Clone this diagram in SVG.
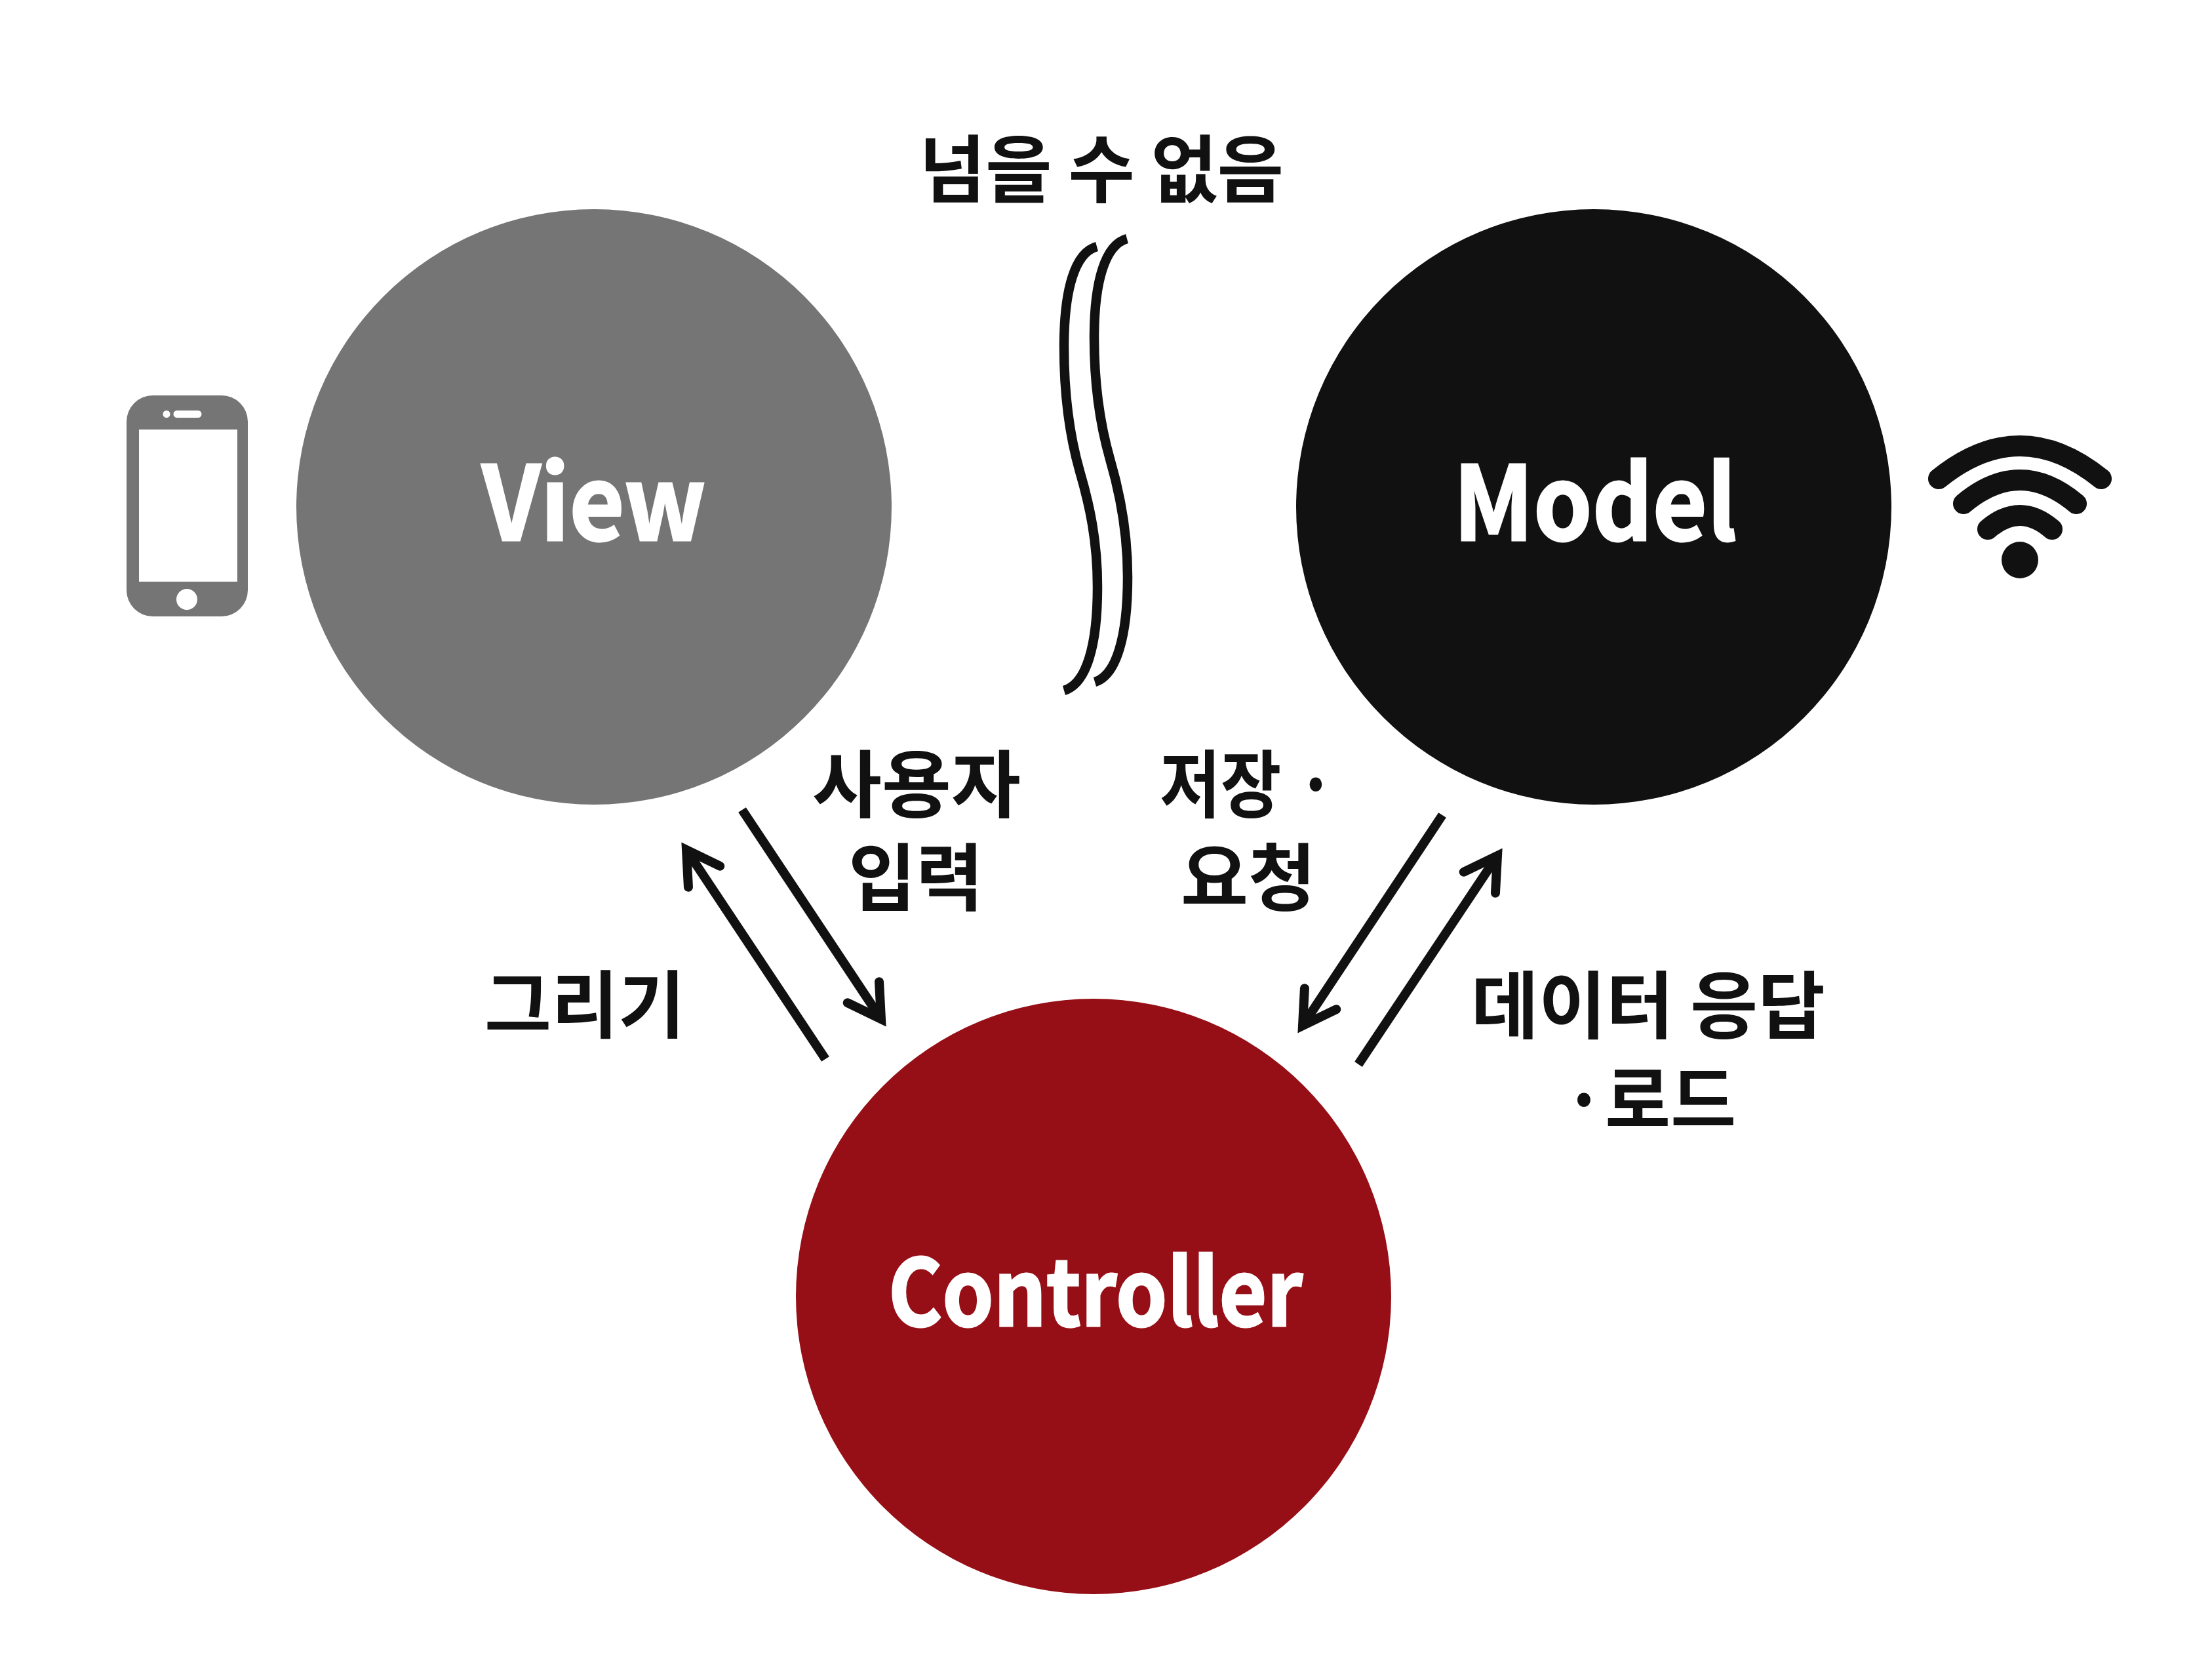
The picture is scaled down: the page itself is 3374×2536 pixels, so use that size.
<svg xmlns="http://www.w3.org/2000/svg" width="3374" height="2536" viewBox="0 0 3374 2536">
<style>
.lb{font-family:"Noto Sans CJK KR","Noto Sans",sans-serif;font-weight:700;font-size:112px;fill:#111;text-anchor:middle}
.nm{font-family:"Noto Sans CJK KR","Noto Sans",sans-serif;font-weight:700;font-size:156px;fill:#fff;stroke:#fff;stroke-width:3px;text-anchor:middle}
.cn{fill:none;stroke:#111;stroke-width:14}
.sq{fill:none;stroke:#111;stroke-width:14.5}
.ar{marker-end:url(#head)}
.wf{fill:none;stroke:#111;stroke-width:32;stroke-linecap:round}
</style>
<defs>
<marker id="head" markerUnits="userSpaceOnUse" markerWidth="120" markerHeight="120" refX="0" refY="0" orient="auto" viewBox="-60 -60 120 120" overflow="visible">
<path d="M-49,-29 L0,0 L-49,29" fill="none" stroke="#111" stroke-width="14" stroke-linecap="round" stroke-linejoin="miter"/>
</marker>
</defs>
<rect width="3374" height="2536" fill="#fff"/>
<g id="view"><circle cx="906" cy="773" r="454" fill="#757575"/><text class="nm" x="906" y="824" textLength="342" lengthAdjust="spacingAndGlyphs">View</text></g>
<g id="model"><circle cx="2431" cy="773" r="454" fill="#111"/><text class="nm" x="2433" y="824" textLength="432" lengthAdjust="spacingAndGlyphs">Model</text></g>
<g id="controller"><circle cx="1668" cy="1977" r="454" fill="#960f17"/><text class="nm" style="font-size:140px" x="1671" y="2022" textLength="632" lengthAdjust="spacingAndGlyphs">Controller</text></g>
<g id="phone">
<path fill-rule="evenodd" fill="#757575" d="M233,603H338A40,40 0 0 1 378,643V900A40,40 0 0 1 338,940H233A40,40 0 0 1 193,900V643A40,40 0 0 1 233,603ZM212,655V887H362V655ZM270,626A5.5,5.5 0 0 0 270,637H302A5.5,5.5 0 0 0 302,626ZM254,626A5.5,5.5 0 1 0 254,637A5.5,5.5 0 1 0 254,626ZM285,898A16,16 0 1 0 285,930A16,16 0 1 0 285,898Z"/>
</g>
<g id="wifi">
<path class="wf" d="M2957,730Q3081,630 3205,730"/>
<path class="wf" d="M2995,768Q3081,696 3167,768"/>
<path class="wf" d="M3032,807Q3081,765 3130,807"/>
<circle cx="3081" cy="854" r="28" fill="#111"/>
</g>
<g id="connectors">
<path class="sq" d="M1673,376C1640,385 1623,440 1623,529C1623,605 1633,670 1647,719C1662,770 1674,825 1674,895C1674,985 1657,1043 1623,1053"/>
<path class="sq" d="M1719,364C1686,373 1669,428 1669,515C1669,591 1679,651 1693,700C1708,751 1720,810 1720,880C1720,970 1703,1030 1670,1040"/>
<path class="cn ar" d="M1259,1615L1047,1296"/>
<path class="cn ar" d="M1132,1235L1344,1554"/>
<path class="cn ar" d="M2200,1243L1987,1564"/>
<path class="cn ar" d="M2072,1623L2284,1305"/>
</g>
<g id="labels">
<text class="lb" x="1680" y="300" textLength="556" lengthAdjust="spacingAndGlyphs">넘을 수 없음</text>
<text class="lb" x="1398" y="1238" textLength="318" lengthAdjust="spacingAndGlyphs">사용자</text>
<text class="lb" x="1397" y="1380" textLength="206" lengthAdjust="spacingAndGlyphs">입력</text>
<text class="lb" x="1903" y="1238" textLength="268" lengthAdjust="spacingAndGlyphs">저장 ·</text>
<text class="lb" x="1904" y="1380" textLength="206" lengthAdjust="spacingAndGlyphs">요청</text>
<text class="lb" x="892" y="1574" textLength="306" lengthAdjust="spacingAndGlyphs">그리기</text>
<text class="lb" x="2514" y="1575" textLength="540" lengthAdjust="spacingAndGlyphs">데이터 응답</text>
<text class="lb" x="2516" y="1719" textLength="264" lengthAdjust="spacingAndGlyphs">·로드</text>
</g>
</svg>
